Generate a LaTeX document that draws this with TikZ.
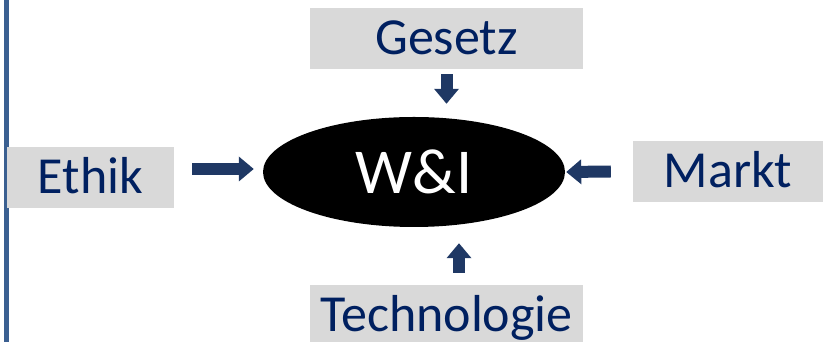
\documentclass[tikz,border=0pt]{standalone}
\usepackage{fontspec}
\setmainfont{Carlito}
\usepackage{tikz}
\usetikzlibrary{arrows.meta}
\usetikzlibrary{calc}
\usetikzlibrary{shapes.geometric}
\definecolor{textblau}{RGB}{0,32,96}
\definecolor{pfeilblau}{RGB}{31,56,100}
\definecolor{randblau}{RGB}{59,96,145}
\definecolor{kastengrau}{RGB}{217,217,217}
\tikzset{
	kasten/.style={
		rectangle,
		fill=kastengrau,
		text=textblau,
		inner sep=0pt,
		minimum height=61pt,
		text height=33pt,
		text depth=0pt,
		font=\fontsize{52}{52}\selectfont},
	kern/.style={
		ellipse,
		fill=black,
		text=white,
		inner sep=0pt,
		minimum width=302pt,
		minimum height=110pt,
		font=\fontsize{64}{64}\selectfont},
	pfeil/.style={draw=pfeilblau, line width=12pt, -{Triangle[length=15pt,width=24pt]}},
}
\begin{document}
\begin{tikzpicture}[x=1pt,y=1pt]
	\useasboundingbox (0,0) rectangle (823,342);
	% linker Rand
	\draw[randblau, line width=5pt] (6.5,0) -- (6.5,342);
	
	\node[kern] (wi) at (414,170) {W\&I};
	\node[kasten, minimum width=273pt] (gesetz) at (446.5,303.5) {Gesetz};
	\node[kasten, minimum width=167pt] (ethik) at (90.5,164.5) {Ethik};
	\node[kasten, minimum width=190pt] (markt) at (728,170.5) {Markt};
	\node[kasten, minimum width=273pt] (technik) at (446.5,26.5) {Technologie};
	
	\draw[pfeil] ([yshift=-5pt]gesetz.south) -- ($(gesetz.south |- wi.north)+(0,13)$);
	\draw[pfeil] ($(ethik.east)+(18,8.5)$) -- ($(wi.west)+(-9,3)$);
	\draw[pfeil] ([xshift=-22pt]markt.west) -- ([xshift=1pt]wi.east);
	\draw[pfeil] ($(technik.north)+(12.5,12)$) -- ($(technik.north |- wi.south)+(12.5,-16)$);
\end{tikzpicture}
\end{document}
